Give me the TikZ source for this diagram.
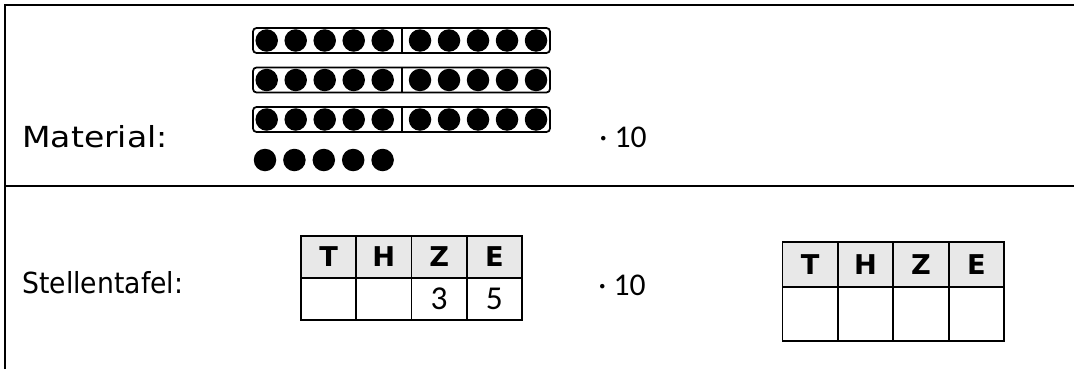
\documentclass[tikz,border=0pt]{standalone}
\usepackage{fontspec}
\setmainfont{DejaVu Sans}
\newfontfamily\widefont[FakeStretch=1.14]{DejaVu Sans}
\newfontfamily\narrowfont[FakeStretch=0.92]{DejaVu Sans}
\newfontfamily\numfont{Carlito}
\usetikzlibrary{positioning}

\begin{document}
\begin{tikzpicture}[x=0.02cm, y=-0.02cm,
  frameline/.style={line width=1.15pt},
  rowlabel/.style={font=\fontsize{16.5}{18}\selectfont, anchor=base west, inner sep=0pt},
  factor/.style={font=\numfont\fontsize{18}{20}\selectfont, inner sep=0pt},
  strip/.style={draw, line width=1pt, rounded corners=2pt},
  bead/.style={fill=black},
  headcell/.style={draw, line width=1.1pt, fill=gray!18, anchor=north west,
    minimum width=1.105cm, inner sep=0pt, outer sep=0pt,
    font=\bfseries\fontsize{15.5}{16}\selectfont},
  valcell/.style={draw, line width=1.1pt, anchor=north west,
    minimum width=1.105cm, inner sep=0pt, outer sep=0pt,
    font=\numfont\fontsize{19}{20}\selectfont}
]
\useasboundingbox (0,0) rectangle (1074,369);

% ---- Rahmen ----
\draw[frameline] (5,369) -- (5,5) -- (1074,5);
\draw[frameline] (5,186) -- (1074,186);

% ---- Material ----
\node[rowlabel, font=\widefont\fontsize{16.5}{18}\selectfont] (material) at (22,147) {Material:};

% Zehnerstreifen
\foreach \r in {0,1,2} {
  \draw[strip] (253,28+\r*39.5) rectangle (550,53+\r*39.5);
  \draw[line width=1pt] (402,28+\r*39.5) -- (402,53+\r*39.5);
  \foreach \j in {0,...,4} {
    \fill[bead] (266.7+\j*29,40.5+\r*39.5) circle[radius=0.225cm];
    \fill[bead] (420+\j*29,40.5+\r*39.5) circle[radius=0.225cm];
  }
}
% einzelne Plättchen
\foreach \j in {0,...,4}
  \fill[bead] (265+\j*29.4,160) circle[radius=0.225cm];

\node[factor] (mal1) at (623,137) {· 10};

% ---- Stellentafel ----
\node[rowlabel, font=\narrowfont\fontsize{16.5}{18}\selectfont] (stellen) at (22,293) {Stellentafel:};

% linke Tafel
\foreach \c/\v [count=\i from 0] in {T/,H/,Z/3,E/5} {
  \node[headcell, minimum height=0.84cm] (lh\c) at (301+\i*55.25,236) {\c};
  \node[valcell, minimum height=0.84cm] (lv\c) at (301+\i*55.25,278) {\v};
}

\node[factor] (mal2) at (622,285) {· 10};

% rechte Tafel
\foreach \c [count=\i from 0] in {T,H,Z,E} {
  \node[headcell, minimum height=0.9cm] (rh\c) at (782.5+\i*55.4,242) {\c};
  \node[valcell, minimum height=1.08cm] (rv\c) at (782.5+\i*55.4,287) {};
}

\end{tikzpicture}
\end{document}
